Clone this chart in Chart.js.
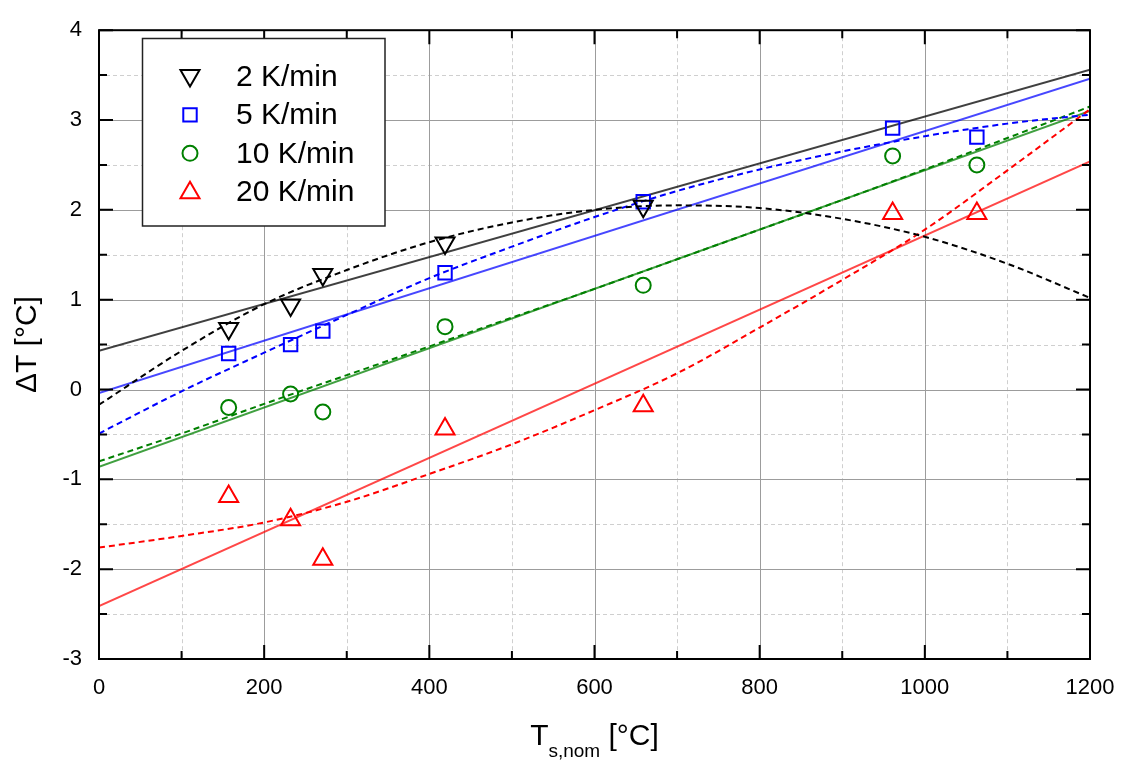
<!DOCTYPE html>
<html><head><meta charset="utf-8">
<script src="https://cdn.jsdelivr.net/npm/chart.js@4/dist/chart.umd.min.js"></script>
<style>html,body{margin:0;padding:0;background:#fff;}#wrap{width:1124px;height:763px;}</style>
</head><body><div id="wrap"><canvas id="c" width="1124" height="763"></canvas></div>
<script>
// ---- data ----
const seriesLabels = ['2 K/min', '5 K/min', '10 K/min', '20 K/min'];
const T2   = [157, 232, 271, 419, 659];
const dT2  = [0.68, 0.94, 1.28, 1.63, 2.04];
const T5   = [157, 232, 271, 419, 659, 961, 1063];
const dT5  = [0.40, 0.50, 0.65, 1.30, 2.09, 2.91, 2.81];
const T10  = [157, 232, 271, 419, 659, 961, 1063];
const dT10 = [-0.20, -0.05, -0.25, 0.70, 1.16, 2.60, 2.50];
const T20  = [157, 232, 271, 419, 659, 961, 1063];
const dT20 = [-1.19, -1.45, -1.89, -0.44, -0.18, 1.96, 1.96];

// linear fits (solid), read at the ends
const linT  = [0, 1200];
const lin2  = [0.43, 3.56];
const lin5  = [-0.04, 3.46];
const lin10 = [-0.86, 3.10];
const lin20 = [-2.41, 2.54];

// polynomial fits (dashed), read every 100 °C
const fitT  = [0, 100, 200, 300, 400, 500, 600, 700, 800, 900, 1000, 1100, 1200];
const fit2  = [-0.17, 0.43, 0.95, 1.33, 1.64, 1.86, 2.00, 2.05, 2.02, 1.90, 1.70, 1.40, 1.02];
const fit5  = [-0.49, -0.02, 0.41, 0.83, 1.24, 1.59, 1.92, 2.21, 2.45, 2.65, 2.82, 2.96, 3.06];
const fit10 = [-0.80, -0.49, -0.16, 0.16, 0.48, 0.80, 1.12, 1.45, 1.78, 2.11, 2.45, 2.80, 3.15];
const fit20 = [-1.76, -1.63, -1.48, -1.25, -0.94, -0.61, -0.23, 0.18, 0.69, 1.22, 1.78, 2.44, 3.12];

const xTickValues = [0, 200, 400, 600, 800, 1000, 1200];
const yTickValues = [-3, -2, -1, 0, 1, 2, 3, 4];
const yTitle = 'ΔT [°C]';
const xTitleMain = 'T', xTitleSub = 's,nom', xTitleUnit = ' [°C]';

// ---- styling ----
const FONT = "'Liberation Sans', Arial, Helvetica, sans-serif";
const colors = ['#000000', '#0000ff', '#008000', '#ff0000'];
const solidColors = ['rgba(0,0,0,0.75)', 'rgba(0,0,255,0.72)', 'rgba(0,128,0,0.75)', 'rgba(255,0,0,0.72)'];
const markerStyles = [
  {style: 'triangle', rot: 180, r: 11},
  {style: 'rect', rot: 0, r: 9.5},
  {style: 'circle', rot: 0, r: 7.5},
  {style: 'triangle', rot: 0, r: 11}
];

const pts = (xs, ys) => xs.map((v, i) => ({x: v, y: ys[i]}));
const markerSets = [[T2, dT2], [T5, dT5], [T10, dT10], [T20, dT20]];
const linSets = [lin2, lin5, lin10, lin20];
const fitSets = [fit2, fit5, fit10, fit20];

const datasets = [];
markerSets.forEach((s, i) => {
  datasets.push({
    label: seriesLabels[i], data: pts(s[0], s[1]), showLine: false, order: 0,
    pointStyle: markerStyles[i].style, pointRotation: markerStyles[i].rot,
    pointRadius: markerStyles[i].r, pointHoverRadius: markerStyles[i].r,
    pointBorderWidth: 2, borderColor: colors[i], pointBorderColor: colors[i],
    pointBackgroundColor: 'rgba(0,0,0,0)', backgroundColor: 'rgba(0,0,0,0)'
  });
});
linSets.forEach((s, i) => {
  datasets.push({
    label: seriesLabels[i] + ' linear fit', data: pts(linT, s), showLine: true, order: 2,
    borderColor: solidColors[i], borderWidth: 2, pointRadius: 0, tension: 0
  });
});
fitSets.forEach((s, i) => {
  datasets.push({
    label: seriesLabels[i] + ' polynomial fit', data: pts(fitT, s), showLine: true, order: 1,
    borderColor: colors[i], borderWidth: 2, borderDash: [6, 4], pointRadius: 0,
    cubicInterpolationMode: 'monotone'
  });
});

function drawMarker(ctx, style, rot, r, x, y, color) {
  ctx.save();
  ctx.strokeStyle = color; ctx.lineWidth = 2; ctx.setLineDash([]);
  ctx.beginPath();
  if (style === 'circle') {
    ctx.arc(x, y, r, 0, Math.PI * 2);
  } else if (style === 'rect') {
    const s = r * Math.SQRT1_2;
    ctx.rect(x - s, y - s, 2 * s, 2 * s);
  } else {
    let a = rot * Math.PI / 180;
    ctx.moveTo(x + Math.sin(a) * r, y - Math.cos(a) * r);
    a += 2 * Math.PI / 3;
    ctx.lineTo(x + Math.sin(a) * r, y - Math.cos(a) * r);
    a += 2 * Math.PI / 3;
    ctx.lineTo(x + Math.sin(a) * r, y - Math.cos(a) * r);
    ctx.closePath();
  }
  ctx.stroke();
  ctx.restore();
}

const decorPlugin = {
  id: 'decor',
  beforeDatasetsDraw(chart) {
    const {ctx, chartArea: a, scales: {x, y}} = chart;
    const xt = x.ticks.map(t => t.value), yt = y.ticks.map(t => t.value);
    ctx.save();
    ctx.lineWidth = 1;
    ctx.strokeStyle = '#cfcfcf'; ctx.setLineDash([4, 3]);
    for (let i = 0; i < xt.length - 1; i++) {
      const px = Math.round(x.getPixelForValue((xt[i] + xt[i + 1]) / 2)) + 0.5;
      ctx.beginPath(); ctx.moveTo(px, a.top); ctx.lineTo(px, a.bottom); ctx.stroke();
    }
    for (let i = 0; i < yt.length - 1; i++) {
      const py = Math.round(y.getPixelForValue((yt[i] + yt[i + 1]) / 2)) + 0.5;
      ctx.beginPath(); ctx.moveTo(a.left, py); ctx.lineTo(a.right, py); ctx.stroke();
    }
    ctx.setLineDash([]); ctx.strokeStyle = '#9c9c9c';
    xt.forEach(v => {
      const px = Math.round(x.getPixelForValue(v)) + 0.5;
      ctx.beginPath(); ctx.moveTo(px, a.top); ctx.lineTo(px, a.bottom); ctx.stroke();
    });
    yt.forEach(v => {
      const py = Math.round(y.getPixelForValue(v)) + 0.5;
      ctx.beginPath(); ctx.moveTo(a.left, py); ctx.lineTo(a.right, py); ctx.stroke();
    });
    ctx.restore();
  },
  afterDatasetsDraw(chart) {
    const {ctx, chartArea: a, scales: {x, y}} = chart;
    const xt = x.ticks.map(t => t.value), yt = y.ticks.map(t => t.value);
    ctx.save();
    ctx.strokeStyle = '#000'; ctx.lineWidth = 2; ctx.setLineDash([]);
    const MAJ = 14, MIN = 8;
    const tickX = (v, len) => {
      const px = x.getPixelForValue(v);
      ctx.beginPath(); ctx.moveTo(px, a.bottom); ctx.lineTo(px, a.bottom - len);
      ctx.moveTo(px, a.top); ctx.lineTo(px, a.top + len); ctx.stroke();
    };
    const tickY = (v, len) => {
      const py = y.getPixelForValue(v);
      ctx.beginPath(); ctx.moveTo(a.left, py); ctx.lineTo(a.left + len, py);
      ctx.moveTo(a.right, py); ctx.lineTo(a.right - len, py); ctx.stroke();
    };
    xt.forEach(v => tickX(v, MAJ));
    for (let i = 0; i < xt.length - 1; i++) tickX((xt[i] + xt[i + 1]) / 2, MIN);
    yt.forEach(v => tickY(v, MAJ));
    for (let i = 0; i < yt.length - 1; i++) tickY((yt[i] + yt[i + 1]) / 2, MIN);
    ctx.strokeRect(a.left, a.top, a.right - a.left, a.bottom - a.top);

    // legend
    const lx = 142.5, ly = 38.5, lw = 242.5, lh = 187.5;
    ctx.fillStyle = '#fff'; ctx.fillRect(lx, ly, lw, lh);
    ctx.lineWidth = 1.5; ctx.strokeStyle = '#222';
    ctx.strokeRect(lx, ly, lw, lh);
    ctx.font = '30px ' + FONT; ctx.fillStyle = '#000';
    ctx.textBaseline = 'middle'; ctx.textAlign = 'left';
    seriesLabels.forEach((lab, i) => {
      const cy = 76.5 + i * 38.4;
      const m = markerStyles[i];
      drawMarker(ctx, m.style, m.rot, m.r, 190, cy + (m.style === 'triangle' ? (m.rot ? -1 : 1) : 0), colors[i]);
      ctx.fillText(lab, 236, cy + 1);
    });

    // x-axis title with subscript
    const mainFont = '30px ' + FONT, subFont = '19px ' + FONT;
    ctx.font = mainFont; const w1 = ctx.measureText(xTitleMain).width;
    const w3 = ctx.measureText(xTitleUnit).width;
    ctx.font = subFont; const w2 = ctx.measureText(xTitleSub).width;
    const total = w1 + w2 + w3;
    let sx = (a.left + a.right) / 2 - total / 2;
    const base = 745;
    ctx.textBaseline = 'alphabetic';
    ctx.font = mainFont; ctx.fillText(xTitleMain, sx, base); sx += w1;
    ctx.font = subFont; ctx.fillText(xTitleSub, sx, base + 12); sx += w2;
    ctx.font = mainFont; ctx.fillText(xTitleUnit, sx, base);
    ctx.restore();
  }
};

new Chart(document.getElementById('c'), {
  type: 'scatter',
  data: {datasets},
  options: {
    responsive: false, animation: false, devicePixelRatio: 1,
    layout: {padding: {left: 0, top: 19, right: 34, bottom: 0}},
    plugins: {legend: {display: false}, tooltip: {enabled: false}},
    scales: {
      x: {
        type: 'linear', min: 0, max: 1200,
        afterBuildTicks: s => { s.ticks = xTickValues.map(v => ({value: v})); },
        afterFit: s => { s.height = 104; s.paddingRight = 0; },
        grid: {display: false, drawTicks: false}, border: {display: false},
        ticks: {padding: 16, color: '#000', font: {family: FONT, size: 22}, maxRotation: 0,
                callback: v => String(v)}
      },
      y: {
        type: 'linear', min: -3, max: 4,
        afterBuildTicks: s => { s.ticks = yTickValues.map(v => ({value: v})); },
        afterFit: s => { s.width = 99; },
        grid: {display: false, drawTicks: false}, border: {display: false},
        ticks: {padding: 17, color: '#000', font: {family: FONT, size: 22}, callback: v => String(v)},
        title: {display: true, text: yTitle, color: '#000', font: {family: FONT, size: 30}, padding: {top: 10, bottom: 0}}
      }
    }
  },
  plugins: [decorPlugin]
});
</script>
</body></html>
